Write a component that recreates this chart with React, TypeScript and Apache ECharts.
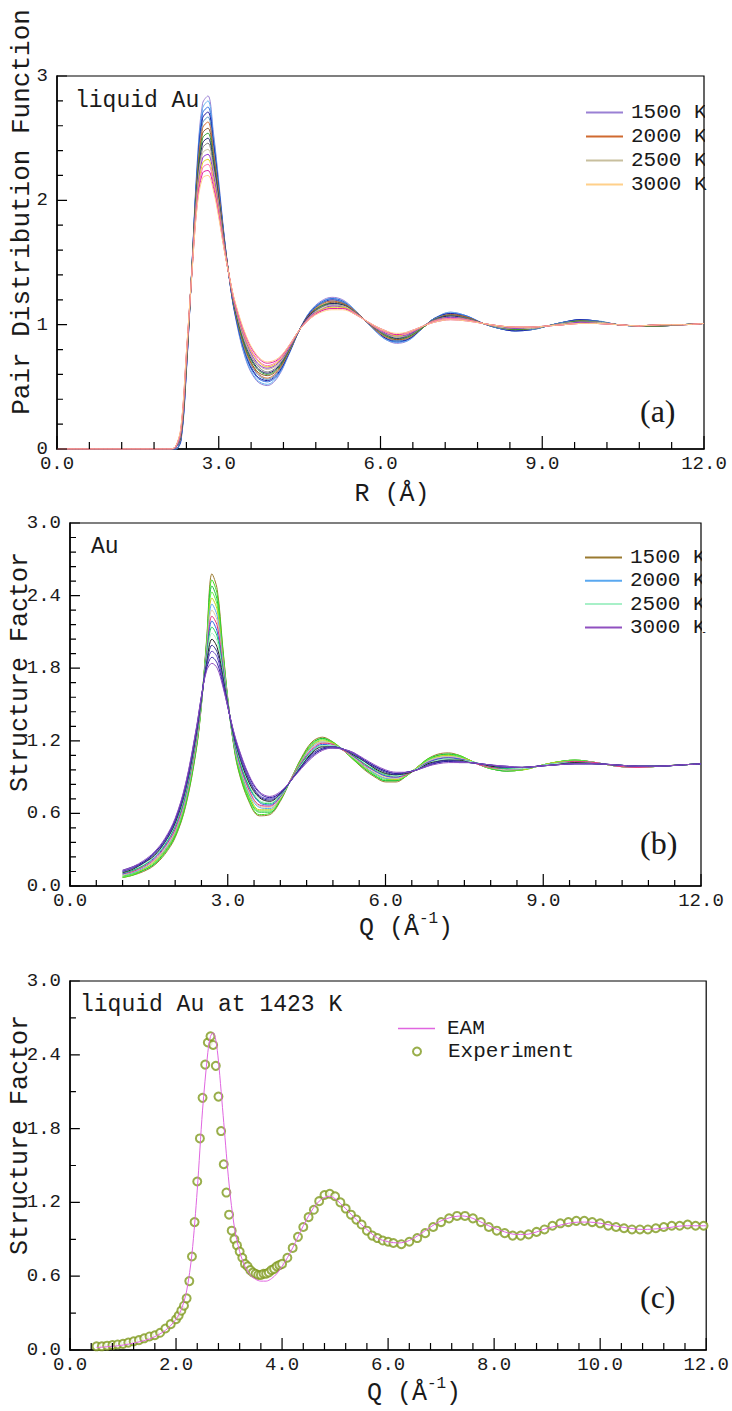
import React, { useEffect, useRef } from 'react';
import * as echarts from 'echarts';

const mono = 'Liberation Mono, DejaVu Sans Mono, monospace';
const serif = 'Liberation Serif, Times New Roman, serif';

const temps = [1500, 1600, 1700, 1800, 1900, 2000, 2100, 2200, 2300, 2400, 2500, 2600, 2700, 2800, 2900, 3000];
const legendTemps = [1500, 2000, 2500, 3000];

// ---- panel (a): pair distribution function g(R)
const gR = [0, 2.1, 2.2, 2.3, 2.4, 2.5, 2.6, 2.7, 2.8, 2.9, 3.0, 3.1, 3.2, 3.3, 3.5, 3.7, 3.9, 4.1, 4.3, 4.5, 4.7, 4.9, 5.1, 5.3, 5.5, 5.7, 5.9, 6.1, 6.3, 6.5, 6.8, 7.0, 7.3, 7.6, 7.9, 8.2, 8.5, 8.8, 9.1, 9.4, 9.7, 10.0, 10.4, 10.8, 11.2, 11.6, 12.0];
const g1500 = [0,0,0,0.06,0.62,1.45,2.30,2.78,2.84,2.55,2.15,1.72,1.36,1.08,0.72,0.55,0.51,0.58,0.76,0.96,1.11,1.19,1.22,1.20,1.13,1.04,0.95,0.88,0.85,0.87,0.98,1.05,1.10,1.07,1.01,0.97,0.95,0.96,0.99,1.02,1.04,1.03,1.00,0.99,0.99,1.00,1.01];
const g1600 = [0,0,0,0.07,0.63,1.45,2.28,2.74,2.80,2.52,2.13,1.71,1.36,1.09,0.73,0.56,0.52,0.59,0.76,0.96,1.11,1.18,1.21,1.19,1.13,1.04,0.95,0.88,0.86,0.87,0.98,1.05,1.10,1.07,1.01,0.97,0.95,0.96,0.99,1.02,1.04,1.03,1.00,0.99,0.99,1.00,1.01];
const g1700 = [0,0,0,0.08,0.64,1.44,2.25,2.70,2.75,2.49,2.11,1.70,1.36,1.09,0.75,0.58,0.54,0.60,0.77,0.96,1.10,1.18,1.21,1.19,1.12,1.04,0.96,0.89,0.86,0.88,0.98,1.05,1.09,1.07,1.01,0.97,0.95,0.96,0.99,1.02,1.04,1.03,1.00,0.99,0.99,1.00,1.01];
const g1800 = [0,0,0,0.08,0.65,1.44,2.23,2.66,2.71,2.46,2.09,1.70,1.36,1.10,0.76,0.59,0.55,0.61,0.77,0.96,1.10,1.17,1.20,1.18,1.12,1.04,0.96,0.89,0.87,0.88,0.98,1.05,1.09,1.06,1.01,0.97,0.95,0.96,0.99,1.02,1.04,1.03,1.00,0.99,0.99,1.00,1.01];
const g1900 = [0,0,0,0.09,0.66,1.44,2.21,2.62,2.67,2.42,2.07,1.69,1.37,1.11,0.77,0.61,0.56,0.62,0.78,0.96,1.09,1.17,1.19,1.18,1.12,1.04,0.96,0.90,0.87,0.89,0.98,1.05,1.08,1.06,1.01,0.97,0.96,0.96,0.99,1.02,1.03,1.03,1.00,0.99,0.99,1.00,1.01];
const g2000 = [0,0,0.01,0.10,0.67,1.43,2.18,2.58,2.63,2.39,2.05,1.68,1.37,1.12,0.79,0.62,0.57,0.63,0.78,0.96,1.09,1.16,1.19,1.17,1.12,1.04,0.96,0.90,0.88,0.89,0.98,1.04,1.08,1.06,1.01,0.98,0.96,0.97,0.99,1.01,1.03,1.02,1.00,0.99,0.99,1.00,1.01];
const g2100 = [0,0,0.01,0.11,0.68,1.43,2.16,2.54,2.58,2.36,2.03,1.67,1.37,1.12,0.80,0.63,0.59,0.64,0.79,0.96,1.09,1.15,1.18,1.17,1.11,1.04,0.97,0.91,0.88,0.90,0.98,1.04,1.08,1.06,1.01,0.98,0.96,0.97,0.99,1.01,1.03,1.02,1.00,0.99,0.99,1.00,1.01];
const g2200 = [0,0,0.01,0.12,0.69,1.43,2.14,2.50,2.54,2.33,2.01,1.66,1.37,1.13,0.81,0.65,0.60,0.65,0.79,0.96,1.08,1.15,1.17,1.16,1.11,1.04,0.97,0.91,0.89,0.90,0.98,1.04,1.07,1.05,1.01,0.98,0.96,0.97,0.99,1.01,1.03,1.02,1.00,0.99,0.99,1.00,1.01];
const g2300 = [0,0,0.01,0.12,0.71,1.42,2.11,2.46,2.50,2.30,2.00,1.66,1.37,1.14,0.83,0.66,0.61,0.66,0.80,0.96,1.08,1.14,1.17,1.16,1.11,1.04,0.97,0.92,0.89,0.91,0.99,1.04,1.07,1.05,1.01,0.98,0.97,0.97,0.99,1.01,1.02,1.02,1.00,0.99,1.00,1.00,1.01];
const g2400 = [0,0,0.01,0.13,0.72,1.42,2.09,2.42,2.46,2.27,1.98,1.65,1.37,1.15,0.84,0.68,0.62,0.67,0.80,0.96,1.07,1.14,1.16,1.15,1.11,1.04,0.97,0.92,0.90,0.91,0.99,1.04,1.06,1.05,1.01,0.98,0.97,0.97,0.99,1.01,1.02,1.02,1.00,0.99,1.00,1.00,1.01];
const g2500 = [0,0,0.01,0.14,0.73,1.42,2.07,2.38,2.41,2.24,1.96,1.64,1.37,1.15,0.85,0.69,0.64,0.68,0.81,0.96,1.07,1.13,1.15,1.15,1.10,1.04,0.98,0.93,0.90,0.92,0.99,1.03,1.06,1.04,1.01,0.98,0.97,0.97,0.99,1.01,1.02,1.02,1.00,0.99,1.00,1.00,1.01];
const g2600 = [0,0,0.01,0.15,0.74,1.41,2.04,2.34,2.37,2.21,1.94,1.63,1.37,1.16,0.87,0.70,0.65,0.69,0.81,0.96,1.07,1.12,1.15,1.14,1.10,1.04,0.98,0.93,0.91,0.92,0.99,1.03,1.06,1.04,1.01,0.99,0.97,0.98,0.99,1.00,1.02,1.01,1.00,0.99,1.00,1.00,1.01];
const g2700 = [0,0,0.02,0.16,0.75,1.41,2.02,2.30,2.33,2.17,1.92,1.62,1.38,1.17,0.88,0.72,0.66,0.70,0.82,0.96,1.06,1.12,1.14,1.14,1.10,1.04,0.98,0.94,0.91,0.93,0.99,1.03,1.05,1.04,1.01,0.99,0.98,0.98,0.99,1.00,1.01,1.01,1.00,0.99,1.00,1.00,1.01];
const g2800 = [0,0,0.02,0.16,0.76,1.41,2.00,2.26,2.29,2.14,1.90,1.62,1.38,1.17,0.89,0.73,0.67,0.71,0.82,0.96,1.06,1.11,1.13,1.13,1.10,1.04,0.98,0.94,0.92,0.93,0.99,1.03,1.05,1.04,1.01,0.99,0.98,0.98,0.99,1.00,1.01,1.01,1.00,0.99,1.00,1.00,1.01];
const g2900 = [0,0,0.02,0.17,0.77,1.40,1.97,2.22,2.24,2.11,1.88,1.61,1.38,1.18,0.91,0.75,0.69,0.72,0.83,0.96,1.05,1.11,1.13,1.13,1.09,1.04,0.99,0.95,0.92,0.94,0.99,1.02,1.04,1.03,1.01,0.99,0.98,0.98,0.99,1.00,1.01,1.01,1.00,0.99,1.00,1.00,1.01];
const g3000 = [0,0,0.02,0.18,0.78,1.40,1.95,2.18,2.20,2.08,1.86,1.60,1.38,1.19,0.92,0.76,0.70,0.73,0.83,0.96,1.05,1.10,1.12,1.12,1.09,1.04,0.99,0.95,0.93,0.94,0.99,1.02,1.04,1.03,1.01,0.99,0.98,0.98,0.99,1.00,1.01,1.01,1.00,0.99,1.00,1.00,1.01];
const gAll = [g1500, g1600, g1700, g1800, g1900, g2000, g2100, g2200, g2300, g2400, g2500, g2600, g2700, g2800, g2900, g3000];
const colorsA = ['#9a80d4', '#60b0f0', '#3070e0', '#2020a0', '#5090c0', '#d06a30', '#8a5a30', '#30a030', '#202070', '#808080', '#c8bf9e', '#9030d0', '#e0d020', '#ff70b0', '#e020a0', '#ffd08a'];

// ---- panel (b): structure factor S(Q)
const sQ = [1.0, 1.2, 1.4, 1.6, 1.8, 2.0, 2.2, 2.4, 2.5, 2.6, 2.7, 2.8, 2.9, 3.0, 3.1, 3.2, 3.4, 3.6, 3.8, 4.0, 4.2, 4.4, 4.6, 4.8, 5.0, 5.2, 5.4, 5.6, 5.8, 6.0, 6.2, 6.4, 6.6, 6.8, 7.0, 7.2, 7.4, 7.6, 7.8, 8.0, 8.3, 8.6, 8.9, 9.2, 9.6, 10.0, 10.4, 10.8, 11.2, 11.6, 12.0];
const s1500 = [.07,.09,.12,.17,.26,.40,.66,1.12,1.50,2.05,2.58,2.45,2.00,1.55,1.20,.96,.70,.58,.59,.70,.88,1.06,1.19,1.23,1.19,1.12,1.04,.96,.90,.86,.86,.91,.98,1.05,1.09,1.10,1.08,1.04,1.00,.97,.95,.96,.99,1.02,1.04,1.02,.99,.98,.99,1.00,1.01];
const s1600 = [.07,.09,.13,.18,.27,.41,.67,1.13,1.50,2.03,2.53,2.41,1.98,1.55,1.21,.97,.71,.59,.60,.71,.88,1.05,1.18,1.22,1.19,1.12,1.04,.97,.91,.87,.87,.91,.98,1.05,1.08,1.09,1.08,1.04,1.00,.97,.95,.96,.99,1.02,1.04,1.02,.99,.98,.99,1.00,1.01];
const s1700 = [.08,.10,.13,.18,.28,.42,.69,1.14,1.51,2.01,2.48,2.36,1.95,1.54,1.21,.99,.73,.61,.61,.71,.88,1.05,1.17,1.22,1.18,1.12,1.05,.97,.91,.87,.87,.91,.98,1.04,1.08,1.09,1.07,1.04,1.00,.97,.95,.96,.99,1.02,1.04,1.02,.99,.98,.99,1.00,1.01];
const s1800 = [.08,.10,.14,.19,.29,.43,.70,1.16,1.51,2.00,2.43,2.32,1.93,1.54,1.22,1.00,.74,.62,.62,.72,.88,1.04,1.16,1.21,1.18,1.12,1.05,.98,.92,.88,.88,.91,.98,1.04,1.07,1.08,1.07,1.04,1.00,.97,.96,.96,.99,1.02,1.04,1.02,.99,.98,.99,1.00,1.01];
const s1900 = [.09,.11,.14,.20,.29,.44,.71,1.17,1.52,1.98,2.38,2.28,1.91,1.53,1.23,1.01,.76,.63,.63,.72,.88,1.04,1.16,1.20,1.18,1.12,1.06,.98,.93,.89,.88,.92,.98,1.03,1.07,1.08,1.06,1.04,1.00,.98,.96,.96,.99,1.02,1.03,1.02,.99,.98,.99,1.00,1.01];
const s2000 = [.09,.11,.15,.21,.30,.45,.72,1.18,1.52,1.96,2.33,2.23,1.89,1.53,1.23,1.02,.77,.65,.64,.73,.88,1.03,1.15,1.19,1.17,1.12,1.06,.99,.93,.89,.89,.92,.97,1.03,1.06,1.07,1.06,1.03,1.00,.98,.96,.97,.99,1.01,1.03,1.02,.99,.98,.99,1.00,1.01];
const s2100 = [.09,.12,.16,.21,.31,.46,.74,1.19,1.53,1.94,2.28,2.19,1.86,1.52,1.24,1.04,.79,.66,.65,.73,.88,1.02,1.14,1.19,1.17,1.12,1.06,1.00,.94,.90,.89,.92,.97,1.03,1.06,1.07,1.06,1.03,1.00,.98,.96,.97,.99,1.01,1.03,1.02,.99,.98,.99,1.00,1.01];
const s2200 = [.10,.12,.16,.22,.32,.47,.75,1.20,1.53,1.92,2.23,2.15,1.84,1.52,1.25,1.05,.80,.67,.66,.74,.88,1.02,1.13,1.18,1.17,1.12,1.07,1.00,.95,.91,.90,.92,.97,1.02,1.05,1.06,1.05,1.03,1.00,.98,.97,.97,.99,1.01,1.03,1.02,.99,.98,.99,1.00,1.01];
const s2300 = [.10,.13,.17,.23,.33,.49,.76,1.22,1.54,1.91,2.19,2.10,1.82,1.51,1.25,1.06,.82,.69,.67,.74,.87,1.01,1.12,1.17,1.16,1.13,1.07,1.01,.95,.91,.90,.93,.97,1.02,1.05,1.06,1.05,1.03,1.01,.99,.97,.97,.99,1.01,1.02,1.01,1.00,.99,.99,1.00,1.01];
const s2400 = [.11,.13,.17,.24,.34,.50,.77,1.23,1.54,1.89,2.14,2.06,1.80,1.51,1.26,1.07,.83,.70,.68,.75,.87,1.01,1.11,1.16,1.16,1.13,1.08,1.01,.96,.92,.91,.93,.97,1.01,1.04,1.05,1.04,1.03,1.01,.99,.97,.97,.99,1.01,1.02,1.01,1.00,.99,.99,1.00,1.01];
const s2500 = [.11,.14,.18,.24,.35,.51,.79,1.24,1.55,1.87,2.09,2.02,1.77,1.50,1.27,1.09,.85,.71,.69,.75,.87,1.00,1.10,1.16,1.16,1.13,1.08,1.02,.97,.93,.91,.93,.97,1.01,1.04,1.05,1.04,1.03,1.01,.99,.98,.97,.99,1.01,1.02,1.01,1.00,.99,.99,1.00,1.01];
const s2600 = [.11,.14,.19,.25,.36,.52,.80,1.25,1.55,1.85,2.04,1.97,1.75,1.50,1.27,1.10,.86,.73,.70,.76,.87,.99,1.10,1.15,1.15,1.13,1.08,1.03,.97,.93,.92,.93,.96,1.01,1.03,1.04,1.04,1.02,1.01,.99,.98,.98,.99,1.00,1.02,1.01,1.00,.99,.99,1.00,1.01];
const s2700 = [.12,.15,.19,.26,.36,.53,.81,1.26,1.56,1.83,1.99,1.93,1.73,1.49,1.28,1.11,.88,.74,.71,.76,.87,.99,1.09,1.14,1.15,1.13,1.09,1.03,.98,.94,.92,.94,.96,1.00,1.03,1.04,1.03,1.02,1.01,1.00,.98,.98,.99,1.00,1.01,1.01,1.00,.99,.99,1.00,1.01];
const s2800 = [.12,.15,.20,.27,.37,.54,.82,1.28,1.56,1.82,1.94,1.89,1.70,1.49,1.29,1.12,.89,.75,.72,.77,.87,.98,1.08,1.13,1.15,1.13,1.09,1.04,.99,.95,.93,.94,.96,1.00,1.02,1.03,1.03,1.02,1.01,1.00,.98,.98,.99,1.00,1.01,1.01,1.00,.99,.99,1.00,1.01];
const s2900 = [.13,.16,.20,.27,.38,.55,.84,1.29,1.57,1.80,1.89,1.84,1.68,1.48,1.29,1.14,.91,.77,.73,.77,.87,.98,1.07,1.13,1.14,1.13,1.10,1.04,.99,.95,.93,.94,.96,.99,1.02,1.03,1.02,1.02,1.01,1.00,.99,.98,.99,1.00,1.01,1.01,1.00,.99,.99,1.00,1.01];
const s3000 = [.13,.16,.21,.28,.39,.56,.85,1.30,1.57,1.78,1.84,1.80,1.66,1.48,1.30,1.15,.92,.78,.74,.78,.87,.97,1.06,1.12,1.14,1.13,1.10,1.05,1.00,.96,.94,.94,.96,.99,1.01,1.02,1.02,1.02,1.01,1.00,.99,.98,.99,1.00,1.01,1.01,1.00,.99,.99,1.00,1.01];
const sAll = [s1500, s1600, s1700, s1800, s1900, s2000, s2100, s2200, s2300, s2400, s2500, s2600, s2700, s2800, s2900, s3000];
const colorsB = ['#9a7a30', '#40e020', '#20c040', '#60f040', '#c0d020', '#5aa8f0', '#e0c8a0', '#e03080', '#3060e0', '#20d060', '#a8f0c8', '#202020', '#303090', '#6040c0', '#3020a0', '#9050c0'];

// ---- panel (c): EAM vs experiment at 1423 K
const eamQ = [0.5, 1.0, 1.5, 1.8, 2.0, 2.1, 2.2, 2.3, 2.4, 2.5, 2.6, 2.65, 2.7, 2.75, 2.8, 2.9, 3.0, 3.1, 3.2, 3.3, 3.4, 3.5, 3.6, 3.7, 3.8, 3.9, 4.0, 4.1, 4.2, 4.3, 4.4, 4.5, 4.6, 4.7, 4.8, 4.9, 5.0, 5.2, 5.4, 5.6, 5.8, 6.0, 6.2, 6.4, 6.6, 6.8, 7.0, 7.2, 7.4, 7.6, 7.8, 8.0, 8.2, 8.4, 8.6, 8.8, 9.0, 9.2, 9.4, 9.6, 9.8, 10.0, 10.4, 10.8, 11.2, 11.6, 12.0];
const eamS = [0.02, 0.04, 0.09, 0.16, 0.25, 0.33, 0.48, 0.78, 1.30, 1.95, 2.42, 2.55, 2.58, 2.52, 2.35, 1.85, 1.35, 1.00, 0.80, 0.68, 0.61, 0.575, 0.56, 0.56, 0.58, 0.62, 0.68, 0.75, 0.83, 0.92, 1.01, 1.09, 1.16, 1.21, 1.24, 1.25, 1.23, 1.15, 1.06, 0.98, 0.91, 0.88, 0.87, 0.89, 0.94, 1.00, 1.05, 1.08, 1.09, 1.07, 1.03, 0.99, 0.96, 0.94, 0.94, 0.96, 0.99, 1.01, 1.03, 1.04, 1.04, 1.03, 1.00, 0.98, 0.99, 1.01, 1.01];
const expQ = [0.5, 0.6, 0.7, 0.8, 0.9, 1.0, 1.1, 1.2, 1.3, 1.4, 1.5, 1.6, 1.7, 1.8, 1.9, 2.0, 2.05, 2.1, 2.15, 2.2, 2.25, 2.3, 2.35, 2.4, 2.45, 2.5, 2.55, 2.6, 2.65, 2.7, 2.75, 2.8, 2.85, 2.9, 2.95, 3.0, 3.05, 3.1, 3.15, 3.2, 3.25, 3.3, 3.35, 3.4, 3.45, 3.5, 3.55, 3.6, 3.65, 3.7, 3.75, 3.8, 3.85, 3.9, 3.95, 4.0, 4.1, 4.2, 4.3, 4.4, 4.5, 4.6, 4.7, 4.8, 4.9, 5.0, 5.1, 5.2, 5.3, 5.4, 5.5, 5.6, 5.7, 5.8, 5.9, 6.0, 6.1, 6.25, 6.4, 6.55, 6.7, 6.85, 7.0, 7.15, 7.3, 7.45, 7.6, 7.75, 7.9, 8.05, 8.2, 8.35, 8.5, 8.65, 8.8, 8.95, 9.1, 9.25, 9.4, 9.55, 9.7, 9.85, 10.0, 10.15, 10.3, 10.45, 10.6, 10.75, 10.9, 11.05, 11.2, 11.35, 11.5, 11.65, 11.8, 11.95];
const expS = [0.03, 0.03, 0.035, 0.04, 0.045, 0.05, 0.06, 0.07, 0.08, 0.095, 0.11, 0.12, 0.14, 0.175, 0.21, 0.25, 0.28, 0.32, 0.36, 0.42, 0.56, 0.76, 1.04, 1.37, 1.72, 2.05, 2.32, 2.50, 2.55, 2.48, 2.31, 2.06, 1.78, 1.51, 1.28, 1.10, 0.97, 0.90, 0.85, 0.80, 0.75, 0.70, 0.68, 0.65, 0.63, 0.62, 0.61, 0.61, 0.62, 0.62, 0.63, 0.65, 0.66, 0.68, 0.69, 0.70, 0.75, 0.83, 0.92, 1.00, 1.08, 1.14, 1.21, 1.26, 1.27, 1.25, 1.20, 1.15, 1.10, 1.06, 1.02, 0.97, 0.93, 0.91, 0.89, 0.88, 0.87, 0.86, 0.88, 0.91, 0.95, 1.00, 1.04, 1.07, 1.09, 1.09, 1.07, 1.04, 1.00, 0.97, 0.95, 0.93, 0.93, 0.94, 0.96, 0.98, 1.01, 1.03, 1.04, 1.05, 1.05, 1.04, 1.03, 1.01, 1.00, 0.99, 0.98, 0.98, 0.98, 0.99, 1.00, 1.01, 1.01, 1.02, 1.01, 1.01];

// axis tick positions: [value, 1 = major / 0 = minor]
function tickList(max: number, minorStep: number, majorStep: number) {
  const out: number[][] = [];
  const n = Math.round(max / minorStep);
  for (let i = 0; i <= n; i++) {
    const v = +(i * minorStep).toFixed(4);
    const r = v / majorStep;
    out.push([v, Math.abs(r - Math.round(r)) < 1e-6 ? 1 : 0]);
  }
  return out;
}
const xTicksA = tickList(12, 0.6, 3);
const yTicksA = tickList(3, 0.2, 1);
const xTicksB = tickList(12, 0.5, 3);
const yTicksB = tickList(3, 0.12, 0.6);
const xTicksC = tickList(12, 0.4, 2);
const yTicksC = tickList(3, 0.3, 0.6);

const txt = '#1a1a1a';

function xAxis(gridIndex: number, interval: number) {
  return {
    type: 'value', gridIndex, min: 0, max: 12, interval,
    axisLine: { show: true, onZero: false, lineStyle: { color: '#000', width: 1.5 } },
    axisTick: { show: false },
    splitLine: { show: false },
    axisLabel: { margin: 5, fontFamily: mono, fontSize: 19, color: txt, formatter: (v: number) => v.toFixed(1) },
  };
}
function yAxis(gridIndex: number, interval: number, fmt: (v: number) => string) {
  return {
    type: 'value', gridIndex, min: 0, max: 3, interval,
    axisLine: { show: true, onZero: false, lineStyle: { color: '#000', width: 1.5 } },
    axisTick: { show: false },
    splitLine: { show: false },
    axisLabel: { margin: 9, fontFamily: mono, fontSize: 19, color: txt, formatter: fmt },
  };
}

// tick marks drawn as broken line segments on the axes' own scales
// (tick length given in the perpendicular axis' data units)
function tickLine(idx: number, ticks: number[][], horizontal: boolean, majorLen: number, minorLen: number) {
  const data: any[] = [];
  ticks.forEach(([v, m]) => {
    const L = m === 1 ? majorLen : minorLen;
    if (horizontal) {
      data.push([v, 0], [v, L], [v, '-']);
    } else {
      data.push([0, v], [L, v], ['-', v]);
    }
  });
  return {
    type: 'line', xAxisIndex: idx, yAxisIndex: idx, data,
    symbol: 'none', showSymbol: false, silent: true, clip: false, z: 5,
    connectNulls: false, smooth: false,
    lineStyle: { color: '#000', width: 1.2 },
    tooltip: { show: false },
  };
}

function legendBox(names: string[], left: number, top: number, gap: number, itemWidth: number, itemHeight: number, padLeft: number, icon: string) {
  return {
    data: names, orient: 'vertical', left, top, itemGap: gap, itemWidth, itemHeight, icon,
    selectedMode: false,
    formatter: (n: string) => n.replace(/^[ab]:/, ''),
    textStyle: { fontFamily: mono, fontSize: 21, color: txt, lineHeight: 20, padding: [0, 0, 0, padLeft] },
  };
}

function text(x: number, y: number, s: string, font: string, extra: any = {}) {
  const { align, ...rest } = extra;
  return {
    type: 'text', x, y, z: 10, ...rest,
    style: { text: s, font, fill: txt, textVerticalAlign: 'middle', textAlign: align || 'left' },
  };
}

export default function App() {
  const ref = useRef<HTMLDivElement>(null);
  useEffect(() => {
    document.body.style.margin = '0';
    const chart = echarts.init(ref.current!, null, { renderer: 'svg' });
    const series: any[] = [];
    temps.forEach((t, i) => {
      series.push({
        type: 'line', name: 'a:' + t + ' K', xAxisIndex: 0, yAxisIndex: 0,
        data: gR.map((r, j) => [r, gAll[i][j]]),
        symbol: 'none', showSymbol: false, smooth: 0.35,
        lineStyle: { width: 1, color: colorsA[i] }, itemStyle: { color: colorsA[i] },
      });
    });
    temps.forEach((t, i) => {
      series.push({
        type: 'line', name: 'b:' + t + ' K', xAxisIndex: 1, yAxisIndex: 1,
        data: sQ.map((q, j) => [q, sAll[i][j]]),
        symbol: 'none', showSymbol: false, smooth: 0.35,
        lineStyle: { width: 1, color: colorsB[i] }, itemStyle: { color: colorsB[i] },
      });
    });
    series.push({
      type: 'line', name: 'EAM', xAxisIndex: 2, yAxisIndex: 2,
      data: eamQ.map((q, j) => [q, eamS[j]]),
      symbol: 'none', showSymbol: false, smooth: 0.3,
      lineStyle: { width: 1, color: '#e066e0' }, itemStyle: { color: '#e066e0' },
    });
    series.push({
      type: 'scatter', name: 'Experiment', xAxisIndex: 2, yAxisIndex: 2,
      data: expQ.map((q, j) => [q, expS[j]]),
      symbol: 'emptyCircle', symbolSize: 8,
      itemStyle: { color: '#7f9a1e', borderColor: '#7f9a1e', borderWidth: 1.1 },
    });
    series.push(tickLine(0, xTicksA, true, 0.105, 0.056));
    series.push(tickLine(0, yTicksA, false, 0.186, 0.111));
    series.push(tickLine(1, xTicksB, true, 0.099, 0.05));
    series.push(tickLine(1, yTicksB, false, 0.19, 0.114));
    series.push(tickLine(2, xTicksC, true, 0.098, 0.057));
    series.push(tickLine(2, yTicksC, false, 0.186, 0.112));

    const supTitle = (cx: number, y: number) => {
      const fs = 25, cw = fs * 0.6, sfs = 16, scw = sfs * 0.6;
      const total = 4 * cw + 2 * scw + cw;
      const x0 = cx - total / 2;
      return [
        text(x0, y, 'Q (Å', `${fs}px ${mono}`),
        text(x0 + 4 * cw, y - 9, '-1', `${sfs}px ${mono}`),
        text(x0 + 4 * cw + 2 * scw, y, ')', `${fs}px ${mono}`),
      ];
    };

    const option: any = {
      animation: false,
      backgroundColor: '#fff',
      grid: [
        { left: 57, top: 76, width: 647, height: 373, show: true, borderColor: '#000', borderWidth: 1.2, backgroundColor: 'transparent' },
        { left: 70, top: 523, width: 631, height: 363, show: true, borderColor: '#000', borderWidth: 1.2, backgroundColor: 'transparent' },
        { left: 70, top: 981, width: 645, height: 369, show: true, borderColor: '#000', borderWidth: 1.2, backgroundColor: 'transparent' },
      ],
      xAxis: [xAxis(0, 3), xAxis(1, 3), xAxis(2, 2)],
      yAxis: [
        yAxis(0, 1, (v: number) => String(Math.round(v))),
        yAxis(1, 0.6, (v: number) => v.toFixed(1)),
        yAxis(2, 0.6, (v: number) => v.toFixed(1)),
      ],
      legend: [
        legendBox(legendTemps.map((t) => 'a:' + t + ' K'), 581, 97, 3, 37, 2, 3, 'rect'),
        legendBox(legendTemps.map((t) => 'b:' + t + ' K'), 580, 542, 2.3, 37, 2, 3, 'rect'),
        legendBox(['EAM'], 393, 1013, 3, 37, 1.5, 7, 'rect'),
        legendBox(['Experiment'], 407, 1036, 3, 8, 8, 22, 'emptyCircle'),
      ],
      series,
      graphic: [
        text(75, 101, 'liquid Au', `23px ${mono}`),
        text(91, 547, 'Au', `23px ${mono}`),
        text(80, 1005, 'liquid Au at 1423 K', `23px ${mono}`),
        text(640, 411, '(a)', `32px ${serif}`),
        text(640, 843, '(b)', `32px ${serif}`),
        text(640, 1297, '(c)', `32px ${serif}`),
        text(22, 212, 'Pair Distribution Function', `26px ${mono}`, { rotation: Math.PI / 2, align: 'center' }),
        text(20, 672, 'Structure Factor', `25px ${mono}`, { rotation: Math.PI / 2, align: 'center' }),
        text(20, 1135, 'Structure Factor', `25px ${mono}`, { rotation: Math.PI / 2, align: 'center' }),
        text(392, 494, 'R (Å)', `25px ${mono}`, { align: 'center' }),
        ...supTitle(406, 928),
        ...supTitle(414, 1393),
        { type: 'rect', z: 20, shape: { x: 705, y: 92, width: 27, height: 95 }, style: { fill: '#fff' } },
        { type: 'rect', z: 20, shape: { x: 702, y: 537, width: 30, height: 95 }, style: { fill: '#fff' } },
      ],
    };
    chart.setOption(option);
    return () => chart.dispose();
  }, []);
  return <div ref={ref} style={{ width: 732, height: 1411 }} />;
}
